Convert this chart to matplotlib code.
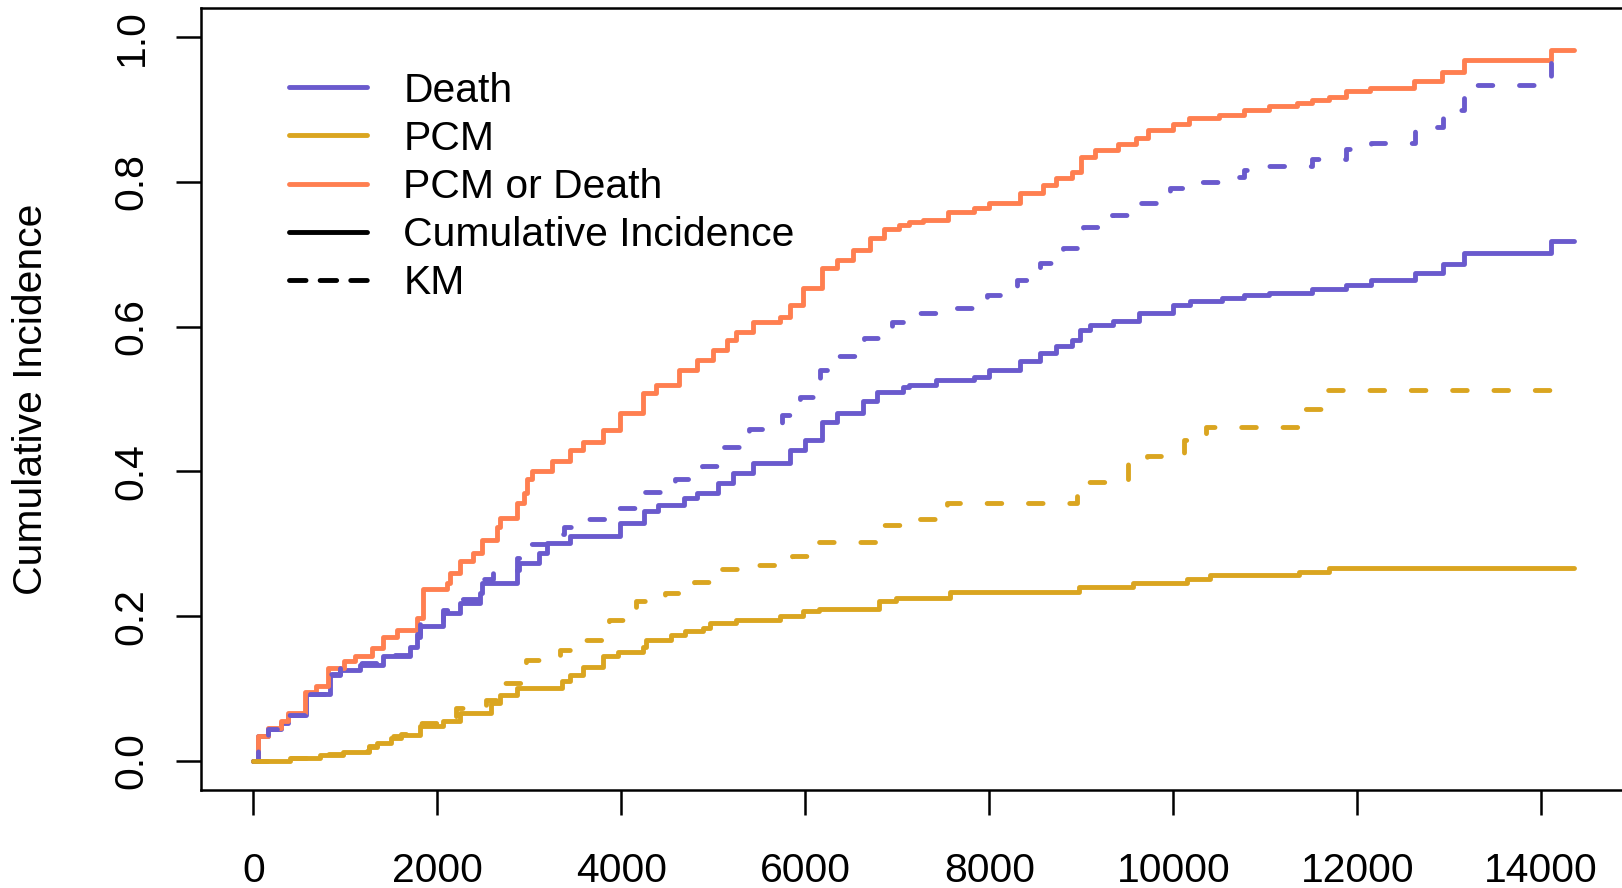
import matplotlib
matplotlib.use("Agg")
import matplotlib.pyplot as plt
from matplotlib.lines import Line2D
import numpy as np

plt.rcParams['font.family'] = ['Liberation Sans', 'DejaVu Sans']

# ---------------- data ----------------
# PCM or Death - cumulative incidence
t_any = [0, 50, 160, 300, 380, 560, 680, 810, 980, 1100, 1290, 1410, 1560, 1780, 1840,
         2100, 2140, 2250, 2390, 2490, 2650, 2680, 2870, 2940, 2970, 3030, 3250, 3440,
         3580, 3800, 3985, 4230, 4380, 4630, 4820, 5000, 5150, 5250, 5430, 5720, 5830,
         5970, 6180, 6340, 6520, 6700, 6850, 7020, 7130, 7280, 7550, 7830, 8000, 8330,
         8580, 8730, 8900, 9000, 9150, 9400, 9600, 9720, 10000, 10170, 10500, 10770,
         11040, 11346, 11510, 11693, 11874, 12140, 12617, 12920, 13159, 14112, 14352]
ci_any = [0, 0.034, 0.046, 0.055, 0.066, 0.096, 0.103, 0.128, 0.138, 0.145, 0.156, 0.172,
          0.181, 0.198, 0.237, 0.246, 0.260, 0.276, 0.287, 0.306, 0.324, 0.336, 0.356,
          0.370, 0.389, 0.400, 0.414, 0.430, 0.441, 0.457, 0.481, 0.508, 0.520, 0.540,
          0.554, 0.568, 0.582, 0.593, 0.607, 0.614, 0.630, 0.653, 0.681, 0.692, 0.706,
          0.722, 0.735, 0.741, 0.745, 0.748, 0.759, 0.764, 0.771, 0.785, 0.796, 0.805,
          0.814, 0.835, 0.844, 0.852, 0.861, 0.872, 0.880, 0.888, 0.893, 0.900, 0.905,
          0.909, 0.913, 0.918, 0.925, 0.930, 0.939, 0.952, 0.968, 0.983, 0.983]

# Death - cumulative incidence
t_death = [0, 50, 160, 300, 380, 570, 830, 940, 1160, 1410, 1700, 1780, 1810, 2060, 2250,
           2460, 2490, 2870, 2890, 3100, 3190, 3440, 3985, 4250, 4400, 4680, 4820, 5050,
           5210, 5430, 5830, 6000, 6180, 6340, 6630, 6780, 7060, 7130, 7420, 7830, 8000,
           8330, 8550, 8730, 8900, 8990, 9090, 9340, 9630, 10000, 10180, 10530, 10770,
           11042, 11511, 11874, 12153, 12624, 12935, 13159, 14112, 14352]
ci_death = [0, 0.034, 0.044, 0.053, 0.063, 0.092, 0.119, 0.126, 0.133, 0.1445, 0.158, 0.172,
            0.186, 0.204, 0.218, 0.232, 0.246, 0.264, 0.273, 0.287, 0.301, 0.311, 0.3287,
            0.345, 0.354, 0.363, 0.370, 0.384, 0.398, 0.4116, 0.430, 0.444, 0.469, 0.481,
            0.497, 0.5105, 0.5174, 0.520, 0.527, 0.531, 0.540, 0.552, 0.5635, 0.5727,
            0.582, 0.5957, 0.6026, 0.6086, 0.6188, 0.630, 0.635, 0.640, 0.644, 0.647,
            0.652, 0.657, 0.664, 0.674, 0.686, 0.702, 0.718, 0.718]

# Death - KM
t_death_km = [0, 50, 160, 300, 380, 570, 830, 940, 1160, 1410, 1700, 1780, 1810, 2060,
              2250, 2460, 2490, 2600, 2870, 2990, 3250, 3380, 3640, 3960, 4250, 4580,
              4880, 5120, 5390, 5750, 5940, 6160, 6350, 6640, 6940, 7240, 7620, 7970,
              8300, 8550, 8800, 9020, 9330, 9600, 9960, 10280, 10640, 10770, 11042,
              11511, 11874, 12147, 12624, 12935, 13159, 14112]
km_death = [0, 0.034, 0.044, 0.053, 0.063, 0.092, 0.120, 0.128, 0.135, 0.147, 0.161, 0.176,
            0.190, 0.209, 0.224, 0.240, 0.252, 0.260, 0.280, 0.300, 0.313, 0.324, 0.334,
            0.349, 0.371, 0.389, 0.407, 0.434, 0.4585, 0.478, 0.5036, 0.540, 0.560,
            0.584, 0.607, 0.619, 0.626, 0.644, 0.665, 0.688, 0.7086, 0.738, 0.7546,
            0.771, 0.7914, 0.800, 0.8075, 0.8167, 0.822, 0.8315, 0.845, 0.854, 0.8757,
            0.900, 0.934, 0.965]

# PCM - cumulative incidence
t_pcm = [0, 395, 720, 970, 1260, 1340, 1500, 1600, 1810, 2060, 2250, 2580, 2680, 2860,
         3350, 3440, 3580, 3800, 3960, 4230, 4270, 4540, 4690, 4890, 4960, 5250, 5720,
         5980, 6150, 6800, 6990, 7570, 8980, 9560, 10150, 10400, 11370, 11693, 14352]
ci_pcm = [0, 0.004, 0.0087, 0.013, 0.020, 0.025, 0.032, 0.036, 0.048, 0.055, 0.066, 0.080,
          0.0916, 0.1008, 0.110, 0.119, 0.130, 0.1445, 0.151, 0.158, 0.1675, 0.1744, 0.179,
          0.1837, 0.1906, 0.195, 0.200, 0.2066, 0.2103, 0.2204, 0.225, 0.2329, 0.241,
          0.2459, 0.2514, 0.2573, 0.261, 0.266, 0.266]

# PCM - KM
t_pcm_km = [0, 395, 720, 970, 1260, 1340, 1500, 1600, 1810, 2060, 2200, 2530, 2700, 2960,
            3330, 3620, 3870, 4160, 4470, 4790, 5090, 5480, 5850, 6120, 6840, 7060, 7544,
            8955, 9513, 9717, 10120, 10358, 11386, 11683, 14112]
km_pcm = [0, 0.004, 0.009, 0.014, 0.021, 0.026, 0.034, 0.038, 0.052, 0.060, 0.0736, 0.0846,
          0.108, 0.140, 0.153, 0.1666, 0.195, 0.2204, 0.232, 0.248, 0.265, 0.271, 0.2826,
          0.303, 0.326, 0.335, 0.357, 0.386, 0.412, 0.421, 0.443, 0.462, 0.486, 0.513,
          0.513]

legend_labels = ["Death", "PCM", "PCM or Death", "Cumulative Incidence", "KM"]
x_ticks = [0, 2000, 4000, 6000, 8000, 10000, 12000, 14000]
y_ticks = [0.0, 0.2, 0.4, 0.6, 0.8, 1.0]
y_label = "Cumulative Incidence"

# ---------------- style ----------------
col_death = "#6A5ACD"   # slateblue
col_pcm = "#DAA520"     # goldenrod
col_any = "#FF7F50"     # coral
LW = 3.5
FS = 29.4
DASH = (0, (3.0, 5.5))

fig = plt.figure(figsize=(16.22, 8.88), dpi=100)
ax = fig.add_axes([0.1237, 0.1104, 0.8790, 0.8803])

common = dict(where="post", lw=LW, solid_capstyle="round", dash_capstyle="round",
              solid_joinstyle="round", dash_joinstyle="round")
ax.step(t_death, ci_death, color=col_death, **common)
ax.step(t_pcm, ci_pcm, color=col_pcm, **common)
ax.step(t_any, ci_any, color=col_any, **common)
ax.step(t_death_km, km_death, color=col_death, linestyle=DASH, **common)
ax.step(t_pcm_km, km_pcm, color=col_pcm, linestyle=DASH, **common)

xmax = max(t_any)
ax.set_xlim(-0.04 * xmax, 1.04 * xmax)
ax.set_ylim(-0.04, 1.04)

ax.set_xticks(x_ticks)
ax.set_xticklabels([str(v) for v in x_ticks])
ax.set_yticks(y_ticks)
ax.set_yticklabels([f"{v:.1f}" for v in y_ticks])

for s in ax.spines.values():
    s.set_linewidth(1.8)
ax.tick_params(axis="both", length=18, width=1.8, labelsize=FS, direction="out")
ax.tick_params(axis="x", pad=26.5)
ax.tick_params(axis="y", pad=18, labelrotation=90)
for lbl in ax.get_yticklabels():
    lbl.set_verticalalignment("center")

ax.set_ylabel(y_label, fontsize=FS, labelpad=45)

handles = [
    Line2D([], [], color=col_death, lw=LW, solid_capstyle="round"),
    Line2D([], [], color=col_pcm, lw=LW, solid_capstyle="round"),
    Line2D([], [], color=col_any, lw=LW, solid_capstyle="round"),
    Line2D([], [], color="black", lw=LW, solid_capstyle="round"),
    Line2D([], [], color="black", lw=LW, linestyle=(0, (3.4, 2.9)), dash_capstyle="round"),
]
ax.legend(handles, legend_labels, loc="upper left", bbox_to_anchor=(0.062, 0.919),
          frameon=False, fontsize=FS, handlelength=1.9, handletextpad=0.9,
          labelspacing=0.25, borderpad=0, borderaxespad=0)

fig.savefig("out.png", dpi=100)
